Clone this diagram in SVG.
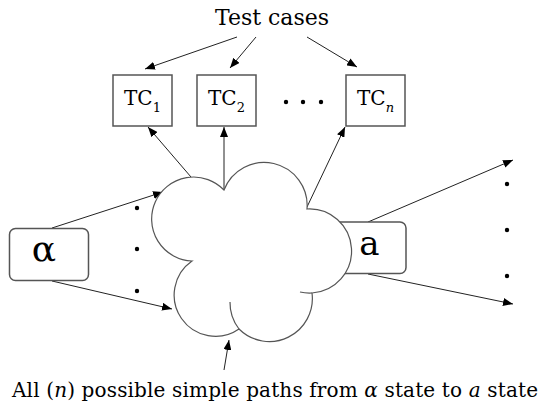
<svg xmlns="http://www.w3.org/2000/svg" width="541" height="408" viewBox="0 0 541 408">
<defs>
<marker id="ah" markerUnits="userSpaceOnUse" markerWidth="10" markerHeight="8" refX="10" refY="4" orient="auto">
<path d="M0,0 L10,4 L0,8 z" fill="#000"/>
</marker>
<style>
.box{fill:#fff;stroke:#555;stroke-width:1.5}
.ln{stroke:#222;stroke-width:1;fill:none;marker-end:url(#ah)}
.t{font-family:"DejaVu Serif","Liberation Serif",serif;fill:#000}
.dot{fill:#000}
.cl{fill:#fff;stroke:#555;stroke-width:1.2}
</style>
</defs>
<rect width="541" height="408" fill="#fff"/>

<g id="connectors">
<line class="ln" x1="237" y1="37" x2="145" y2="69"/>
<line class="ln" x1="256" y1="37" x2="230" y2="68"/>
<line class="ln" x1="307" y1="37" x2="357" y2="67"/>
<line class="ln" x1="191" y1="177" x2="148" y2="127"/>
<line class="ln" x1="224" y1="190" x2="224" y2="127"/>
<line class="ln" x1="307" y1="207" x2="345" y2="127"/>
<line class="ln" x1="52" y1="228" x2="163" y2="192"/>
<line class="ln" x1="52" y1="281" x2="172" y2="309"/>
<line class="ln" x1="368" y1="222" x2="513" y2="160"/>
<line class="ln" x1="368" y1="274" x2="513" y2="304"/>
<line class="ln" x1="224" y1="370" x2="229" y2="340"/>
</g>

<g id="test-cases">
<text class="t" x="272" y="25" font-size="22" text-anchor="middle">Test cases</text>
</g>

<g id="tc1">
<rect class="box" x="113" y="75" width="59" height="51"/>
<text class="t" x="142.5" y="105" font-size="20" text-anchor="middle">TC<tspan dy="7" font-size="13">1</tspan></text>
</g>
<g id="tc2">
<rect class="box" x="197" y="75" width="59" height="51"/>
<text class="t" x="226.5" y="105" font-size="20" text-anchor="middle">TC<tspan dy="7" font-size="13">2</tspan></text>
</g>
<g id="ellipsis-tc">
<circle class="dot" cx="286" cy="102" r="2.2"/>
<circle class="dot" cx="303" cy="102" r="2.2"/>
<circle class="dot" cx="321" cy="102" r="2.2"/>
</g>
<g id="tcn">
<rect class="box" x="346" y="75" width="59" height="51"/>
<text class="t" x="375.5" y="105" font-size="20" text-anchor="middle">TC<tspan dy="7" font-size="13" font-style="italic">n</tspan></text>
</g>

<g id="alpha">
<rect class="box" x="9.5" y="228.5" width="79" height="52" rx="6"/>
<text class="t" x="44" y="261" font-size="36" text-anchor="middle">α</text>
</g>
<g id="ellipsis-left">
<circle class="dot" cx="137" cy="208" r="2.2"/>
<circle class="dot" cx="137" cy="249" r="2.2"/>
<circle class="dot" cx="137" cy="291" r="2.2"/>
</g>

<g id="a">
<rect class="box" x="325" y="222" width="81" height="51.5" rx="6"/>
<text class="t" x="369.5" y="255" font-size="34" text-anchor="middle">a</text>
</g>

<g id="cloud">
<path class="cl" d="M224,190 A43,43 0 0 1 307,209 A42,42 0 0 1 312,293 A43,43 0 0 1 239,329 A41,41 0 1 1 192,261 A42,42 0 1 1 224,190 Z"/>
<path class="cl" fill="none" d="M239,329 A43,43 0 0 1 230,302"/>
<path class="cl" fill="none" d="M312,293 A42,42 0 0 1 300,292"/>
</g>

<g id="ellipsis-right">
<circle class="dot" cx="507" cy="184" r="2.2"/>
<circle class="dot" cx="507" cy="230" r="2.2"/>
<circle class="dot" cx="507" cy="276" r="2.2"/>
</g>

<g id="caption">
<text class="t" x="12" y="397" font-size="20" textLength="526" lengthAdjust="spacing">All (<tspan font-style="italic">n</tspan>) possible simple paths from <tspan font-style="italic">α</tspan> state to <tspan font-style="italic">a</tspan> state</text>
</g>
</svg>
